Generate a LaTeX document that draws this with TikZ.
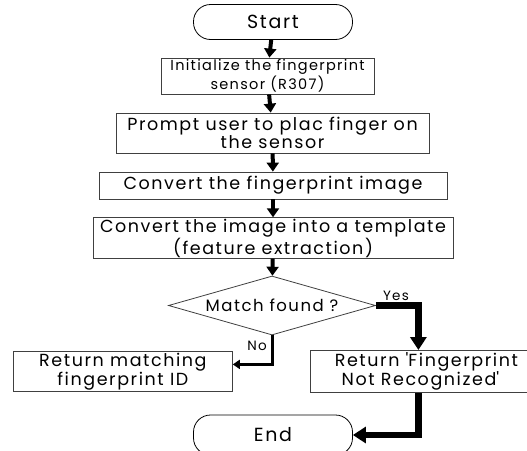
\documentclass[tikz,border=0pt]{standalone}
\usepackage{fontspec}
\setmainfont{Poppins}[LetterSpace=9]
\usetikzlibrary{shapes.geometric,arrows.meta,calc}
\tikzset{
  boxnode/.style={draw=black!75,line width=0.8pt,rectangle,align=center,inner sep=1pt,font=\fontsize{17.5}{15}\selectfont},
  termnode/.style={draw=black,line width=0.8pt,rectangle,rounded corners=17pt,align=center,font=\fontsize{19}{18}\selectfont},
  decnode/.style={draw=black!75,line width=0.8pt,diamond,aspect=3.5,inner sep=0pt,font=\fontsize{16.5}{16}\selectfont},
  arr/.style={line width=4pt,-{Triangle[length=9pt,width=12pt]}},
  arrthick/.style={line width=6.5pt,-{Triangle[length=13pt,width=16pt]}},
  arrthin/.style={line width=3pt,-{Triangle[length=7pt,width=9pt]}},
  lbl/.style={font=\fontsize{13.5}{13}\selectfont,inner sep=0pt}
}
\begin{document}
\begin{tikzpicture}[x=1pt,y=-1pt]
\clip (0,0) rectangle (527,450);
\fill[white] (0,0) rectangle (527,450);
\node[termnode,minimum width=159pt,minimum height=35pt] (start) at (273,22) {Start};
\node[boxnode,minimum width=213pt,minimum height=36pt,font=\fontsize{14.5}{12}\selectfont] (init) at (267.5,76) {Initialize the fingerprint\\sensor (R307)};
\node[boxnode,minimum width=313pt,minimum height=40pt] (prompt) at (272.5,133) {Prompt user to plac finger on\\the sensor};
\node[boxnode,minimum width=348pt,minimum height=27pt] (conv) at (273,185.5) {Convert the fingerprint image};
\node[boxnode,minimum width=360pt,minimum height=40pt] (templ) at (273,238) {Convert the image into a template\\(feature extraction)};
\node[decnode,minimum width=207pt,minimum height=59pt] (dec) at (272,305.5) {Match found ?};
\node[boxnode,minimum width=219pt,minimum height=40pt,anchor=north west] (no) at (13,351) {Return matching\\fingerprint ID};
\node[boxnode,minimum width=220pt,minimum height=42pt,anchor=north west] (yes) at (310,350) {\hspace*{12pt}Return \textquotesingle Fingerprint\\Not Recognized\textquotesingle};
\node[termnode,minimum width=159pt,minimum height=40pt] (end) at (273,435) {End};
\draw[arr] (start) -- (init);
\draw[arr] (init) -- (prompt);
\draw[arr] (prompt) -- (conv);
\draw[arr] (conv) -- (templ);
\draw[arr] (templ) -- (dec);
\draw[arrthick] (dec.east) -| ([xshift=-2pt]yes.north);
\draw[arrthin] (dec.south) |- ([yshift=7pt]no.east);
\draw[arrthick] ([xshift=-2pt]yes.south) |- (end.east);
\node[lbl] (yeslbl) at (396,296) {Yes};
\node[lbl] (nolbl) at (257,346) {No};
\end{tikzpicture}
\end{document}
